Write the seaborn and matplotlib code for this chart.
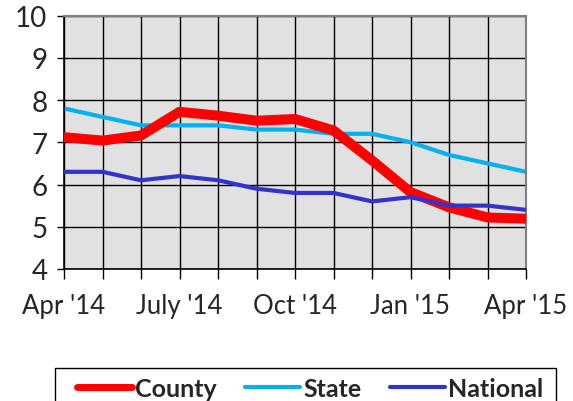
import matplotlib
matplotlib.use("Agg")
import matplotlib.pyplot as plt
from matplotlib.patches import Rectangle
import seaborn as sns
import pandas as pd
import numpy as np

# monthly values, Apr '14 .. Apr '15
months = ["Apr '14", "May '14", "Jun '14", "July '14", "Aug '14", "Sep '14", "Oct '14",
          "Nov '14", "Dec '14", "Jan '15", "Feb '15", "Mar '15", "Apr '15"]
shown_labels = ["Apr '14", "July '14", "Oct '14", "Jan '15", "Apr '15"]
county = [7.12, 7.04, 7.16, 7.72, 7.63, 7.51, 7.55, 7.28, 6.57, 5.82, 5.46, 5.22, 5.19]
state = [7.8, 7.6, 7.4, 7.4, 7.4, 7.3, 7.3, 7.2, 7.2, 7.0, 6.7, 6.5, 6.3]
national = [6.3, 6.3, 6.1, 6.2, 6.1, 5.9, 5.8, 5.8, 5.6, 5.7, 5.5, 5.5, 5.4]

df = pd.DataFrame({"idx": np.arange(len(months)), "County": county,
                   "State": state, "National": national})

sns.set_style("white")
plt.rcParams["font.family"] = ["Lato", "DejaVu Sans"]

fig = plt.figure(figsize=(5.73, 4.02), dpi=100)
ax = fig.add_axes([64 / 573, 1 - 270 / 402, (526 - 64) / 573, (270 - 16.5) / 402])
ax.set_facecolor("#e1e1e1")

# draw order: State under County, National on top
styles = {"County": ("#ff0000", 7.2, 3), "State": ("#00b0f0", 3.0, 2), "National": ("#3333cc", 3.0, 4)}
for name in ["State", "County", "National"]:
    col, lw, z = styles[name]
    sns.lineplot(data=df, x="idx", y=name, color=col, linewidth=lw, ax=ax,
                 label=name, zorder=z)

ax.set_xlim(0, len(months) - 1)
ax.set_ylim(4, 10)
ax.set_xticks(df["idx"])
ax.set_xticklabels([m if m in shown_labels else "" for m in months])
ax.set_yticks(range(4, 11))
ax.set_xlabel("")
ax.set_ylabel("")
ax.grid(True, color="black", linewidth=1.0)
ax.set_axisbelow(True)

ax.tick_params(axis="x", direction="out", length=7, width=1, color="black",
               labelsize=18.5, pad=10, bottom=True)
ax.tick_params(axis="y", direction="out", length=5, width=1, color="black",
               labelsize=20, pad=7, left=True)
for s in ["left", "bottom"]:
    ax.spines[s].set_color("black")
    ax.spines[s].set_linewidth(1.2)
for s in ["top", "right"]:
    ax.spines[s].set_color("#808080")
    ax.spines[s].set_linewidth(1.5)

handles, labels = ax.get_legend_handles_labels()
order = [labels.index(n) for n in ["County", "State", "National"]]
leg = ax.legend([handles[i] for i in order], [labels[i] for i in order],
                loc="upper left", bbox_to_anchor=(68 / 573, 1 - 369 / 402),
                bbox_transform=fig.transFigure, ncol=3, frameon=False,
                handlelength=2.2, handletextpad=0.12,
                columnspacing=1.15, borderaxespad=0, borderpad=0.35,
                prop={"weight": "bold", "size": 18})
for line, w in zip(leg.get_lines(), [5.0, 3.0, 3.0]):
    line.set_linewidth(w)
    line.set_solid_capstyle("round")

# legend box, running past the bottom edge like in the source image
fig.patches.append(Rectangle((55 / 573, -0.02), (556 - 55) / 573, 0.02 + 1 - 369 / 402,
                             transform=fig.transFigure, fill=False,
                             edgecolor="black", linewidth=1.0))

fig.savefig("out.png", dpi=100)
